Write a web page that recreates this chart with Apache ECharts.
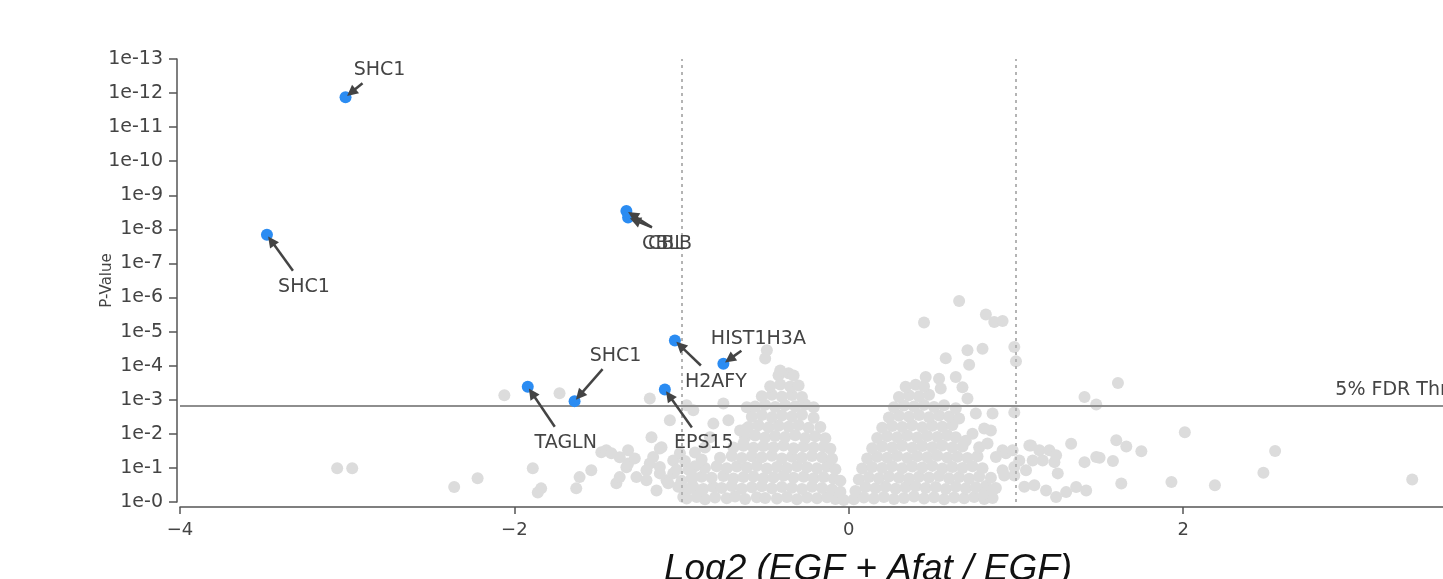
<!DOCTYPE html>
<html>
<head>
<meta charset="utf-8">
<script src="https://cdn.jsdelivr.net/npm/echarts@6/dist/echarts.min.js"></script>
<style>
html,body{margin:0;padding:0;background:#fff;}
#chart{width:1443px;height:579px;}
</style>
</head>
<body>
<div id="chart"></div>
<script>
// ---- data: x = log2 fold change, y = -log10(p-value) ----
const yTickExponents = [0,1,2,3,4,5,6,7,8,9,10,11,12,13];
const xTicks = [-4,-2,0,2];
const foldChangeCutoffs = [-1, 1];
const fdrThreshold = 2.83;
const fdrLabel = '5% FDR Threshold';
const fdrLabelX = 2.91;

const labelNames = ['SHC1','SHC1','CBL','CBLB','H2AFY','HIST1H3A','TAGLN','SHC1','EPS15'];
const labelX = [-3.01,-3.48,-1.33,-1.32,-1.04,-0.75,-1.92,-1.64,-1.10];
const labelY = [11.88,7.84,8.54,8.35,4.74,4.06,3.38,2.96,3.30];

const grayLeftCore = [
[-0.97,0.10],[-0.91,0.15],[-0.86,0.08],[-0.80,0.13],[-0.73,0.11],[-0.68,0.16],[-0.62,0.09],[-0.55,0.14],[-0.50,0.12],[-0.43,0.10],[-0.37,0.15],[-0.31,0.08],[-0.25,0.13],[-0.19,0.11],[-0.13,0.14],[-0.08,0.09],[-0.03,0.06],
[-0.99,0.40],[-0.93,0.45],[-0.87,0.38],[-0.81,0.44],[-0.76,0.41],[-0.70,0.47],[-0.64,0.39],[-0.58,0.43],[-0.52,0.46],[-0.46,0.40],[-0.40,0.44],[-0.34,0.42],[-0.28,0.38],[-0.22,0.45],[-0.16,0.41],[-0.10,0.37],[-0.05,0.30],
[-0.94,0.70],[-0.88,0.74],[-0.82,0.71],[-0.75,0.76],[-0.69,0.69],[-0.63,0.73],[-0.57,0.75],[-0.51,0.70],[-0.45,0.72],[-0.39,0.77],[-0.33,0.71],[-0.27,0.74],[-0.21,0.70],[-0.15,0.73],[-0.09,0.68],[-0.05,0.62],
[-0.86,1.00],[-0.79,1.05],[-0.73,0.99],[-0.67,1.04],[-0.61,1.01],[-0.55,1.06],[-0.49,0.98],[-0.43,1.03],[-0.37,1.00],[-0.31,1.05],[-0.25,1.02],[-0.19,0.99],[-0.13,1.04],[-0.08,0.96],
[-0.77,1.30],[-0.70,1.35],[-0.64,1.29],[-0.58,1.34],[-0.52,1.31],[-0.46,1.36],[-0.40,1.28],[-0.34,1.33],[-0.28,1.30],[-0.22,1.35],[-0.16,1.31],[-0.10,1.27],
[-0.69,1.60],[-0.63,1.65],[-0.57,1.59],[-0.51,1.64],[-0.45,1.61],[-0.39,1.66],[-0.33,1.58],[-0.27,1.63],[-0.21,1.60],[-0.15,1.62],[-0.11,1.56],
[-0.62,1.90],[-0.56,1.95],[-0.50,1.89],[-0.44,1.94],[-0.38,1.91],[-0.32,1.96],[-0.26,1.88],[-0.20,1.93],[-0.14,1.87],
[-0.60,2.20],[-0.54,2.25],[-0.48,2.19],[-0.42,2.24],[-0.36,2.21],[-0.30,2.26],[-0.24,2.18],[-0.17,2.20],
[-0.58,2.50],[-0.52,2.55],[-0.46,2.49],[-0.40,2.54],[-0.34,2.51],[-0.28,2.56],[-0.21,2.47],
[-0.56,2.80],[-0.50,2.85],[-0.44,2.79],[-0.38,2.84],[-0.32,2.81],[-0.26,2.86],[-0.21,2.78],
[-0.52,3.10],[-0.46,3.15],[-0.40,3.09],[-0.34,3.14],[-0.28,3.08],
[-0.47,3.40],[-0.41,3.45],[-0.35,3.39],[-0.30,3.42],
[-0.42,3.72],[-0.36,3.78]
];

const grayRightCore = [
[0.03,0.08],[0.09,0.13],[0.15,0.10],[0.21,0.15],[0.27,0.09],[0.33,0.12],[0.39,0.16],[0.45,0.10],[0.51,0.14],[0.57,0.08],[0.63,0.13],[0.69,0.11],[0.75,0.15],[0.81,0.09],[0.86,0.12],
[0.04,0.32],[0.10,0.44],[0.16,0.40],[0.22,0.45],[0.28,0.39],[0.34,0.43],[0.40,0.46],[0.46,0.41],[0.52,0.44],[0.58,0.38],[0.64,0.45],[0.70,0.40],[0.76,0.43],[0.82,0.47],[0.88,0.41],
[0.06,0.66],[0.12,0.73],[0.18,0.70],[0.24,0.75],[0.30,0.71],[0.36,0.69],[0.42,0.74],[0.48,0.72],[0.54,0.76],[0.60,0.70],[0.66,0.73],[0.72,0.68],[0.78,0.75],[0.85,0.71],
[0.08,0.98],[0.14,1.03],[0.20,1.00],[0.26,1.05],[0.32,0.99],[0.38,1.04],[0.44,1.01],[0.50,1.06],[0.56,0.98],[0.62,1.03],[0.68,1.00],[0.74,1.05],[0.80,0.99],
[0.11,1.28],[0.17,1.33],[0.23,1.30],[0.29,1.35],[0.35,1.29],[0.41,1.34],[0.47,1.31],[0.53,1.36],[0.59,1.30],[0.65,1.33],[0.71,1.29],[0.77,1.34],
[0.14,1.58],[0.20,1.63],[0.26,1.60],[0.32,1.65],[0.38,1.59],[0.44,1.64],[0.50,1.61],[0.56,1.66],[0.62,1.60],[0.68,1.63],
[0.17,1.88],[0.23,1.93],[0.29,1.90],[0.35,1.95],[0.41,1.89],[0.47,1.94],[0.53,1.91],[0.59,1.96],[0.64,1.90],
[0.20,2.18],[0.26,2.23],[0.32,2.20],[0.38,2.25],[0.44,2.19],[0.50,2.24],[0.56,2.21],[0.62,2.26],
[0.24,2.48],[0.30,2.53],[0.36,2.50],[0.42,2.55],[0.48,2.49],[0.54,2.54],[0.60,2.51],
[0.27,2.78],[0.33,2.83],[0.39,2.80],[0.45,2.85],[0.51,2.79],[0.57,2.84],
[0.30,3.08],[0.36,3.13],[0.42,3.10],[0.48,3.15],
[0.34,3.38],[0.40,3.44],[0.45,3.40]
];

const grayLeftScatter = [
[-3.06,0.99],[-2.97,0.99],[-2.36,0.44],[-2.22,0.70],[-2.06,3.13],[-1.89,0.99],[-1.84,0.40],[-1.86,0.28],[-1.73,3.19],[-1.63,0.40],
[-1.61,0.73],[-1.54,0.93],[-1.48,1.46],[-1.45,1.52],[-1.42,1.43],[-1.39,0.55],[-1.37,1.31],[-1.37,0.73],[-1.32,1.52],[-1.33,1.02],
[-1.32,1.13],[-1.28,1.28],[-1.27,0.73],[-1.21,0.93],[-1.21,0.64],[-1.19,1.13],[-1.18,1.90],[-1.19,3.04],[-1.17,1.32],[-1.15,0.34],
[-1.13,1.57],[-1.13,1.03],[-1.13,0.84],[-1.12,1.61],[-1.09,0.64],[-1.08,0.55],[-1.07,2.40],[-1.05,1.22],[-1.05,0.84],[-1.01,1.43],
[-0.99,0.15],[-0.97,2.84],[-0.93,2.69],[-0.93,0.73],[-0.89,0.34],[-0.83,1.90],[-0.81,2.30],[-0.75,2.89],[-0.72,2.40],[-0.65,2.10],
[-0.61,2.78],[-0.61,2.16],[-0.63,1.72],[-0.49,4.45],[-0.50,4.21],[-0.41,3.86],[-0.33,3.71],[-0.88,1.25],[-0.92,1.05],[-1.03,0.95],
[-1.02,0.45],[-1.00,0.62],[-0.96,0.95],[-0.98,1.20],[-0.92,1.45],[-0.86,1.60],[-0.95,0.40]
];

const grayRightScatter = [
[0.45,5.27],[0.66,5.90],[0.82,5.50],[0.87,5.28],[0.92,5.31],[0.99,4.55],[1.00,4.13],[0.58,4.22],[0.71,4.45],[0.80,4.50],
[0.72,4.03],[0.46,3.67],[0.54,3.62],[0.64,3.67],[0.55,3.33],[0.68,3.37],[0.71,3.04],[0.76,2.60],[0.86,2.60],[0.99,2.63],
[0.81,2.16],[0.85,2.10],[0.78,1.61],[0.83,1.72],[0.92,1.52],[0.88,1.32],[0.94,1.43],[0.92,0.93],[0.99,0.78],[0.93,0.78],
[0.81,0.25],[0.86,0.34],[0.70,1.80],[0.74,2.00],[0.66,2.45],[0.64,2.75],[1.02,1.22],[1.09,1.66],[1.14,1.52],[1.20,1.52],
[1.24,1.37],[1.10,1.22],[1.16,1.22],[1.23,1.17],[1.25,0.84],[1.11,0.49],[1.18,0.34],[1.24,0.15],[1.30,0.29],[1.36,0.44],
[1.42,0.34],[0.98,1.52],[0.99,1.03],[1.06,0.93],[1.33,1.71],[1.41,1.17],[1.48,1.32],[1.41,3.08],[1.48,2.86],[1.61,3.49],
[2.01,2.05],[1.60,1.81],[1.66,1.63],[1.75,1.49],[1.50,1.30],[1.58,1.20],[2.55,1.50],[2.48,0.86],[1.63,0.54],[1.93,0.59],
[2.19,0.49],[3.37,0.66],[1.05,0.45],[1.08,1.66]
];

// ---- styles (pixel offsets of annotation arrows / texts) ----
const arrowTailOffsets = [[17,-14],[26,36],[25,16],[24,10],[26,25],[18,-13],[27,40],[28,-32],[27,38]];
const labelTextOffsets = [[34,-27],[37,52],[40,33],[39,27],[41,42],[35,-25],[38,56],[41,-45],[39,54]];

const TEXT_FONT = '"DejaVu Sans", Verdana, sans-serif';
const TEXT_COLOR = '#444';

const grayData = [].concat(grayLeftCore, grayRightCore, grayLeftScatter, grayRightScatter);
const blueData = labelX.map((x, i) => [x, labelY[i]]);

const chart = echarts.init(document.getElementById('chart'), null, {renderer: 'canvas'});

const option = {
  animation: false,
  backgroundColor: '#fff',
  grid: {left: 180, right: -113, top: 59, bottom: 77, containLabel: false, outerBoundsMode: 'none'},
  xAxis: {
    type: 'value',
    min: xTicks[0],
    max: 4.23,
    interval: 2,
    offset: 5,
    splitLine: {show: false},
    axisLine: {show: true, onZero: false, lineStyle: {color: '#555', width: 1.5}},
    axisTick: {show: true, length: 7, lineStyle: {color: '#555', width: 1.5}},
    axisLabel: {
      show: true, margin: 14, color: TEXT_COLOR, fontFamily: TEXT_FONT, fontSize: 18,
      showMaxLabel: false,
      formatter: v => xTicks.indexOf(v) >= 0 ? String(v).replace('-', '\u2212') : ''
    },
    name: 'Log2 (EGF + Afat / EGF)',
    nameLocation: 'middle',
    nameGap: 44,
    nameTextStyle: {fontFamily: '"Liberation Sans", Arial, sans-serif', fontStyle: 'italic', fontSize: 37, color: '#111'}
  },
  yAxis: {
    type: 'value',
    min: yTickExponents[0],
    max: yTickExponents[yTickExponents.length - 1],
    interval: 1,
    offset: 3,
    splitLine: {show: false},
    axisLine: {show: true, onZero: false, lineStyle: {color: '#555', width: 1.5}},
    axisTick: {show: true, length: 8, lineStyle: {color: '#555', width: 1.5}},
    axisLabel: {
      margin: 14, color: TEXT_COLOR, fontFamily: TEXT_FONT, fontSize: 19,
      formatter: v => '1e-' + v
    },
    name: 'P-Value',
    nameLocation: 'middle',
    nameGap: 62,
    nameMoveOverlap: false,
    nameTextStyle: {fontFamily: TEXT_FONT, fontSize: 15, color: TEXT_COLOR}
  },
  series: [
    {
      name: 'all',
      type: 'scatter',
      data: grayData,
      symbol: 'circle',
      symbolSize: 12,
      itemStyle: {color: '#dcdcdc', opacity: 1},
      z: 2,
      silent: true,
      markLine: {
        silent: true,
        symbol: ['none', 'none'],
        label: {show: false},
        z: 5,
        data: [
          {yAxis: fdrThreshold, lineStyle: {color: '#8e8e8e', width: 2, type: 'solid'}},
          {xAxis: foldChangeCutoffs[0], lineStyle: {color: '#b4b4b4', width: 2, type: [3, 4]}},
          {xAxis: foldChangeCutoffs[1], lineStyle: {color: '#b4b4b4', width: 2, type: [3, 4]}}
        ]
      }
    },
    {
      name: 'significant',
      type: 'scatter',
      data: blueData,
      symbol: 'circle',
      symbolSize: 12,
      itemStyle: {color: '#2b8cf2', opacity: 1},
      z: 6,
      silent: true
    },
    {
      name: 'annotations',
      type: 'custom',
      data: blueData,
      z: 7,
      silent: true,
      clip: false,
      encode: {x: 0, y: 1},
      renderItem: function (params, api) {
        const i = params.dataIndex;
        const p = api.coord([api.value(0), api.value(1)]);
        const t = arrowTailOffsets[i], o = labelTextOffsets[i];
        const tx = p[0] + t[0], ty = p[1] + t[1];
        const dx = tx - p[0], dy = ty - p[1];
        const len = Math.sqrt(dx * dx + dy * dy);
        const ux = dx / len, uy = dy / len;
        const tipX = p[0] + ux * 2, tipY = p[1] + uy * 2;
        const headLen = 11, headW = 5.5;
        const bx = tipX + ux * headLen, by = tipY + uy * headLen;
        const nx = -uy, ny = ux;
        return {
          type: 'group',
          children: [
            {type: 'line', shape: {x1: tx, y1: ty, x2: bx - ux * 1, y2: by - uy * 1},
             style: {stroke: '#444', lineWidth: 2.5}},
            {type: 'polygon', shape: {points: [[tipX, tipY], [bx + nx * headW, by + ny * headW], [bx - nx * headW, by - ny * headW]]},
             style: {fill: '#444'}},
            {type: 'text', x: p[0] + o[0], y: p[1] + o[1],
             style: {text: labelNames[i], fill: TEXT_COLOR, font: '19px ' + TEXT_FONT, align: 'center', verticalAlign: 'middle'}}
          ]
        };
      }
    },
    {
      name: 'fdrLabel',
      type: 'custom',
      data: [[fdrLabelX, fdrThreshold]],
      z: 7,
      silent: true,
      clip: false,
      encode: {x: 0, y: 1},
      renderItem: function (params, api) {
        const p = api.coord([api.value(0), api.value(1)]);
        return {
          type: 'text', x: p[0], y: p[1] - 15,
          style: {text: fdrLabel, fill: TEXT_COLOR, font: '19px ' + TEXT_FONT, align: 'left', verticalAlign: 'middle'}
        };
      }
    }
  ]
};
chart.setOption(option);
</script>
</body>
</html>
